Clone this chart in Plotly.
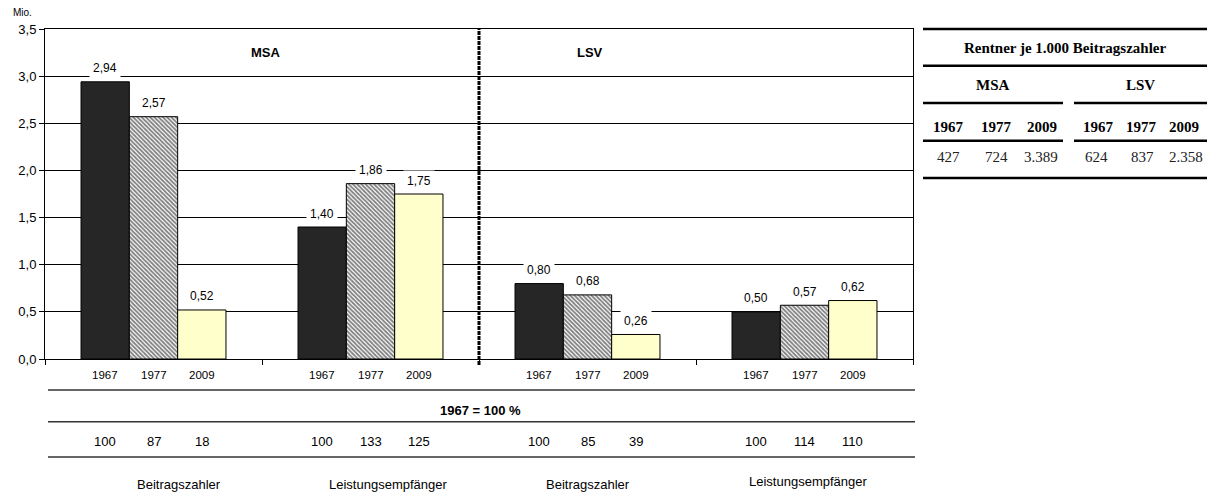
import plotly.graph_objects as go

# ---------------- data ----------------
categories = ["MSA Beitragszahler", "MSA Leistungsempfänger",
              "LSV Beitragszahler", "LSV Leistungsempfänger"]
group_labels = ["Beitragszahler", "Leistungsempfänger", "Beitragszahler", "Leistungsempfänger"]
years = ["1967", "1977", "2009"]
values_1967 = [2.94, 1.40, 0.80, 0.50]
values_1977 = [2.57, 1.86, 0.68, 0.57]
values_2009 = [0.52, 1.75, 0.26, 0.62]
index_1967 = [100, 100, 100, 100]
index_1977 = [87, 133, 85, 114]
index_2009 = [18, 125, 39, 110]
y_ticks = [0.0, 0.5, 1.0, 1.5, 2.0, 2.5, 3.0, 3.5]

table_title = "Rentner je 1.000 Beitragszahler"
table_groups = ["MSA", "LSV"]
table_years = ["1967", "1977", "2009"]
table_msa = ["427", "724", "3.389"]
table_lsv = ["624", "837", "2.358"]

# ---------------- layout helpers ----------------
W, H = 1207, 493
L, R, T, B = 45, 913, 29, 359


def fx(x):
    return (x - L) / (R - L)


def fy(y):
    return (B - y) / (B - T)


SANS = "Liberation Sans, Arial, sans-serif"
SERIF = "Liberation Serif, Times New Roman, serif"
bar_px = 48.3
offsets = [-bar_px, 0, bar_px]

series = [values_1967, values_1977, values_2009]
indices = [index_1967, index_1977, index_2009]
markers = [
    dict(color="#262626", line=dict(color="black", width=1)),
    dict(color="white", line=dict(color="black", width=1),
         pattern=dict(shape="\\", fgcolor="black", bgcolor="white", size=3, solidity=0.6)),
    dict(color="#FFFFCC", line=dict(color="black", width=1)),
]

fig = go.Figure()
for yr, vals, mk in zip(years, series, markers):
    fig.add_trace(go.Bar(x=categories, y=vals, name=yr, marker=mk, showlegend=False,
                         hoverinfo="skip"))


def txt(x, y, text, size, family=SANS, xref="paper", xshift=0, yshift=0, color="black", **kw):
    d = dict(x=x, y=y, xref=xref, yref="paper", text=text, showarrow=False,
             xanchor="center", yanchor="middle", xshift=xshift, yshift=yshift,
             font=dict(family=family, size=size, color=color))
    d.update(kw)
    return d


ann = []
# data labels
for j, vals in enumerate(series):
    for c, v in zip(categories, vals):
        ann.append(dict(x=c, y=v, xref="x", yref="y", xshift=offsets[j], yshift=13.5,
                        text=f"{v:.2f}".replace(".", ","), showarrow=False,
                        bgcolor="white", borderpad=3, xanchor="center", yanchor="middle",
                        font=dict(family=SANS, size=12, color="black")))
# year labels below bars and index row
for j, yr in enumerate(years):
    for k, c in enumerate(categories):
        ann.append(txt(c, fy(375), yr, 11.5, xref="x", xshift=offsets[j]))
        ann.append(txt(c, fy(441.7), str(indices[j][k]), 13, xref="x", xshift=offsets[j]))
# group labels
label_shift = [25.5, 17.5, 0, 3.5]
label_y = [484, 484, 484, 481]
for k, c in enumerate(categories):
    ann.append(txt(c, fy(label_y[k]), group_labels[k], 13, xref="x", xshift=label_shift[k]))

ann.append(txt(fx(480), fy(411), "<b>1967 = 100 %</b>", 13))
ann.append(txt(fx(266), fy(52.7), "<b>MSA</b>", 13))
ann.append(txt(fx(590), fy(52.7), "<b>LSV</b>", 13))
ann.append(txt(fx(22), fy(13), "Mio.", 10))

# right table text
ann.append(txt(fx(1065), fy(48), f"<b>{table_title}</b>", 15, family=SERIF))
for g, gx in zip(table_groups, [993, 1140]):
    ann.append(txt(fx(gx), fy(85), f"<b>{g}</b>", 15, family=SERIF))
year_x = [948, 997, 1042, 1098, 1141, 1184]
val_x = [948, 996, 1041, 1096, 1142, 1186]
for yr, xx in zip(table_years + table_years, year_x):
    ann.append(txt(fx(xx), fy(126.7), f"<b>{yr}</b>", 15, family=SERIF))
for v, xx in zip(table_msa + table_lsv, val_x):
    ann.append(txt(fx(xx), fy(156.7), v, 15, family=SERIF, color="#222"))

shapes = []
# divider
shapes.append(dict(type="line", xref="x", yref="paper", x0=1.5, x1=1.5, y0=fy(365), y1=1,
                   line=dict(color="black", width=3, dash="4px,1px")))
# lines under the chart
for yy in [390, 421.7, 457]:
    shapes.append(dict(type="line", xref="paper", yref="paper", x0=fx(48), x1=fx(915),
                       y0=fy(yy), y1=fy(yy), line=dict(color="#333", width=1.5)))
# table lines
for yy in [29, 65.7, 178]:
    shapes.append(dict(type="line", xref="paper", yref="paper", x0=fx(923), x1=fx(1207),
                       y0=fy(yy), y1=fy(yy), line=dict(color="black", width=2.5)))
for yy in [103, 140.7]:
    for x0, x1 in [(923, 1063), (1074, 1207)]:
        shapes.append(dict(type="line", xref="paper", yref="paper", x0=fx(x0), x1=fx(x1),
                           y0=fy(yy), y1=fy(yy), line=dict(color="black", width=2.5)))

fig.update_layout(
    width=W, height=H,
    margin=dict(l=L, r=W - R, t=T, b=H - B, autoexpand=False),
    paper_bgcolor="white", plot_bgcolor="white",
    barmode="group", bargap=0.332, bargroupgap=0,
    separators=",.",
    annotations=ann, shapes=shapes,
    font=dict(family=SANS, color="black"),
    xaxis=dict(type="category", showticklabels=False, tickson="boundaries", ticks="outside",
               ticklen=5, tickcolor="black", showline=True, linecolor="black", linewidth=1,
               mirror=True, showgrid=False, zeroline=False),
    yaxis=dict(range=[0, 3.5], tickvals=y_ticks, tickformat=".1f", ticks="outside", ticklen=5,
               tickcolor="black", showline=True, linecolor="black", linewidth=1, mirror=True,
               showgrid=True, gridcolor="black", gridwidth=1, zeroline=False,
               tickfont=dict(family=SANS, size=13, color="black")),
)

fig.write_html("out.html", config={"displayModeBar": False},
               post_script="document.body.style.margin='0';document.body.style.overflow='hidden';")
